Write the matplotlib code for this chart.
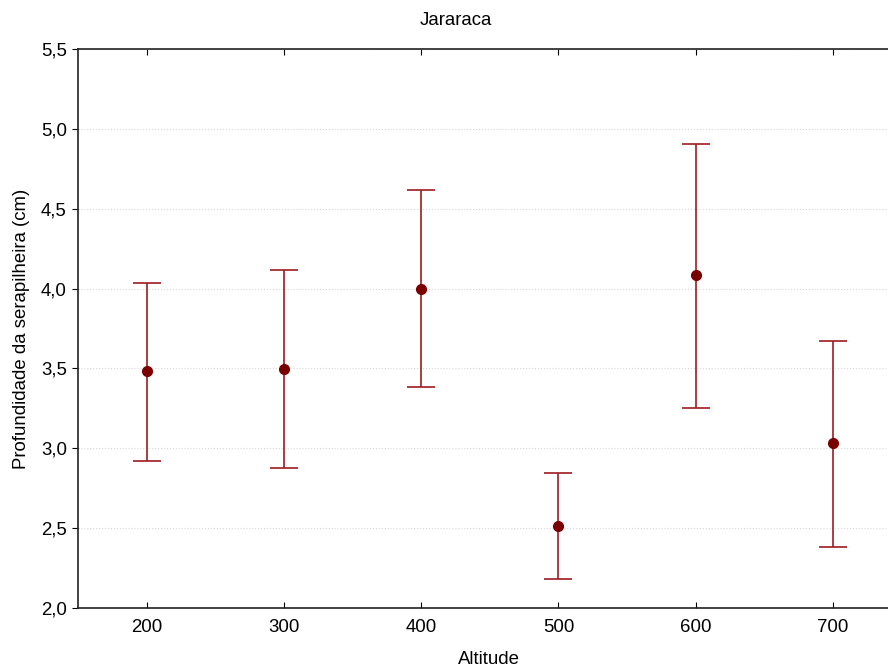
import matplotlib.pyplot as plt
from matplotlib.ticker import FuncFormatter

altitude = [200, 300, 400, 500, 600, 700]
media = [3.484, 3.496, 3.997, 2.513, 4.085, 3.033]
superior = [4.035, 4.116, 4.617, 2.845, 4.905, 3.672]
inferior = [2.920, 2.877, 3.384, 2.180, 3.252, 2.382]

plt.rcParams['font.family'] = ['Liberation Sans', 'DejaVu Sans']
plt.rcParams['font.size'] = 13.4

fig = plt.figure(figsize=(8.88, 6.7), dpi=100)
ax = fig.add_axes([0.0878, 0.0925, 0.9122, 0.8344])

err_lo = [m - lo for m, lo in zip(media, inferior)]
err_hi = [hi - m for m, hi in zip(media, superior)]
ax.errorbar(altitude, media, yerr=[err_lo, err_hi], fmt='none',
            ecolor='#9e1b20', elinewidth=1.2, capsize=10, capthick=1.2, zorder=2)
ax.plot(altitude, media, 'o', color='#7a0000', markersize=7, zorder=3)

ax.set_xlim(150, 740)
ax.set_ylim(2.0, 5.5)
ax.set_xticks(altitude)
ax.set_yticks([2.0, 2.5, 3.0, 3.5, 4.0, 4.5, 5.0, 5.5])
ax.yaxis.set_major_formatter(FuncFormatter(lambda v, p: f"{v:.1f}".replace('.', ',')))
ax.grid(axis='y', linestyle=':', color='#d8d8d8', linewidth=0.8, zorder=0)

ax.spines['right'].set_visible(False)
for s in ['left', 'top', 'bottom']:
    ax.spines[s].set_color('#222222')
    ax.spines[s].set_linewidth(1.2)
ax.tick_params(axis='x', direction='in', length=4, top=True, pad=8)
ax.tick_params(axis='y', direction='out', length=4, pad=4)

ax.set_title('Jararaca', x=0.467, pad=17, fontsize=13.4)
ax.set_xlabel('Altitude', x=0.508, labelpad=11)
ax.set_ylabel('Profundidade da serapilheira (cm)', labelpad=8)

fig.savefig('out.png', dpi=100)
